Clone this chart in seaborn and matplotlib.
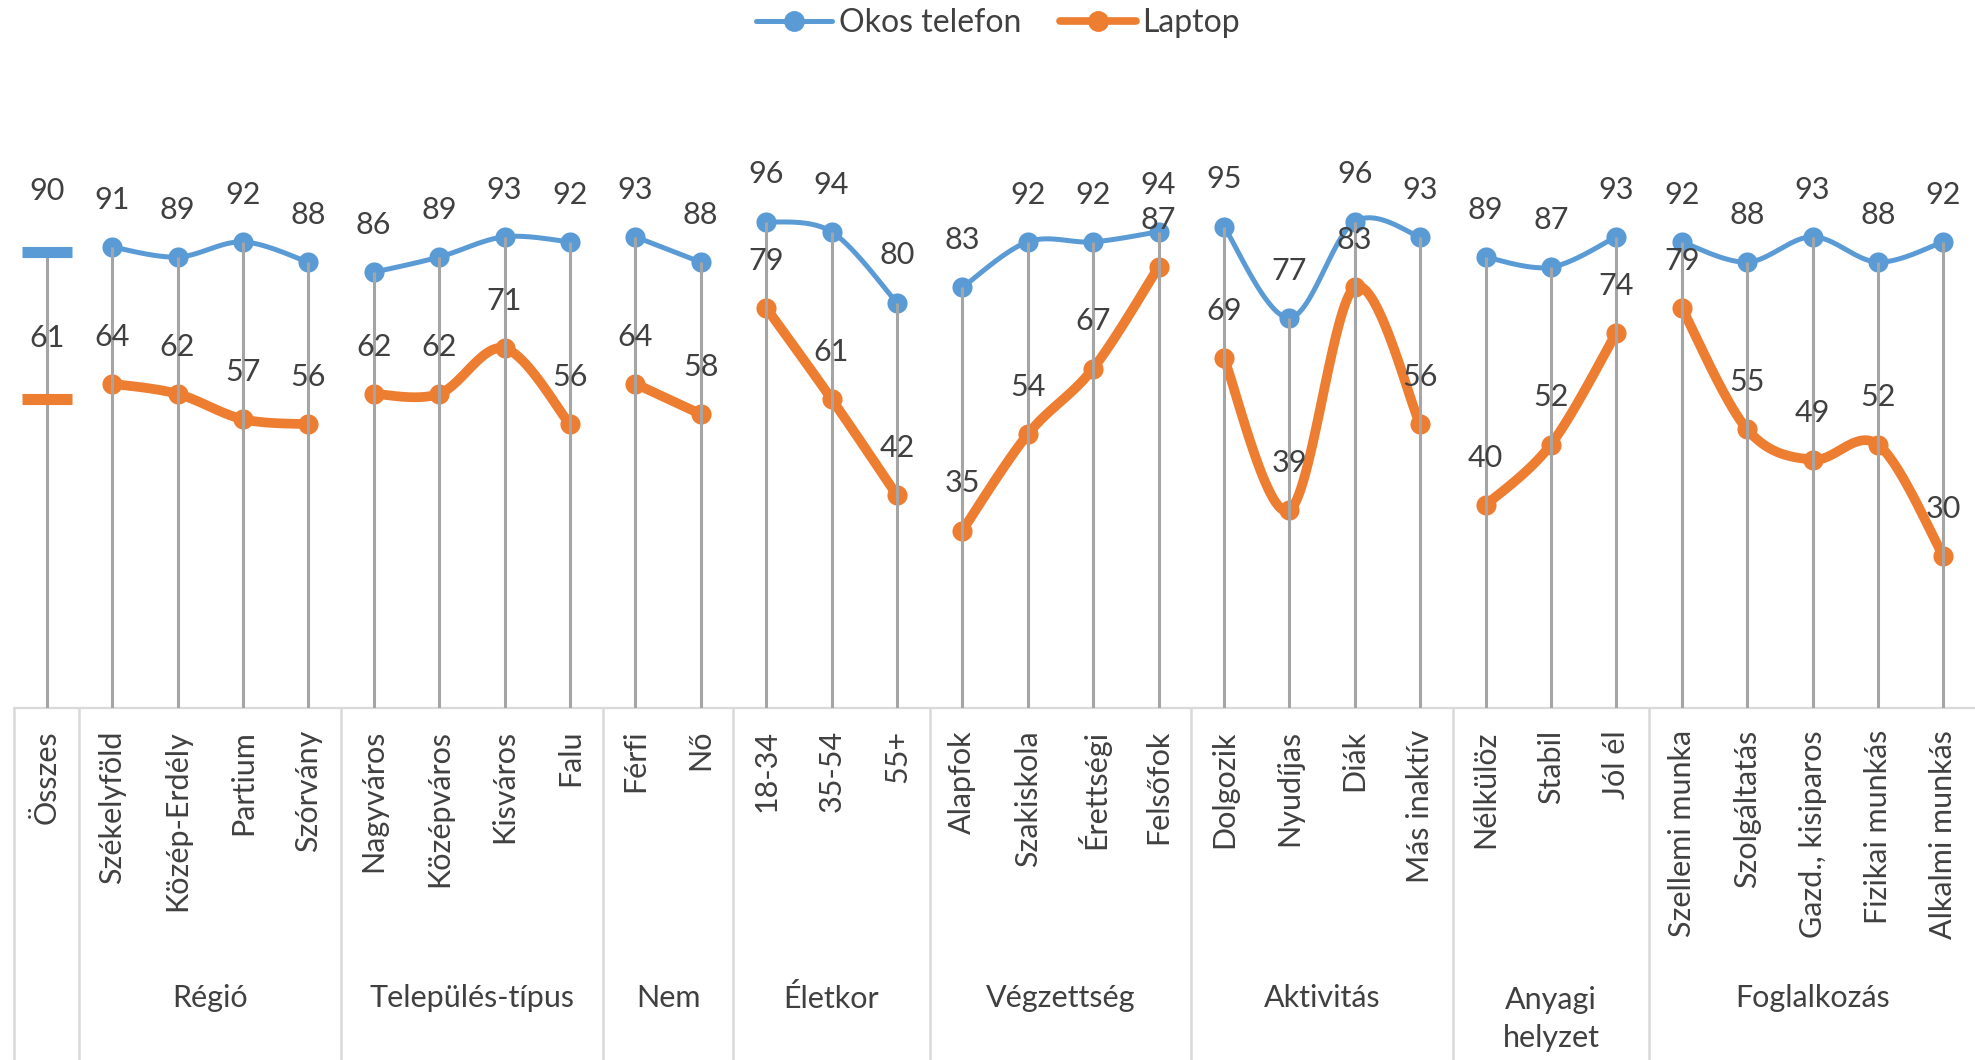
import numpy as np
import pandas as pd
import matplotlib
matplotlib.use("Agg")
import matplotlib.pyplot as plt
import seaborn as sns
from matplotlib.lines import Line2D
from matplotlib.transforms import blended_transform_factory

# ---------------- data ----------------
category_labels = ["Összes",
                   "Székelyföld", "Közép-Erdély", "Partium", "Szórvány",
                   "Nagyváros", "Középváros", "Kisváros", "Falu",
                   "Férfi", "Nő",
                   "18-34", "35-54", "55+",
                   "Alapfok", "Szakiskola", "Érettségi", "Felsőfok",
                   "Dolgozik", "Nyudíjas", "Diák", "Más inaktív",
                   "Nélkülöz", "Stabil", "Jól él",
                   "Szellemi munka", "Szolgáltatás", "Gazd., kisiparos", "Fizikai munkás", "Alkalmi munkás"]
group_labels = ["", "Régió", "Település-típus", "Nem", "Életkor", "Végzettség",
                "Aktivitás", "Anyagi\nhelyzet", "Foglalkozás"]
group_sizes = [1, 4, 4, 2, 3, 4, 4, 3, 5]
okos_telefon = [90,
                91, 89, 92, 88,
                86, 89, 93, 92,
                93, 88,
                96, 94, 80,
                83, 92, 92, 94,
                95, 77, 96, 93,
                89, 87, 93,
                92, 88, 93, 88, 92]
laptop = [61,
          64, 62, 57, 56,
          62, 62, 71, 56,
          64, 58,
          79, 61, 42,
          35, 54, 67, 87,
          69, 39, 83, 56,
          40, 52, 74,
          79, 55, 49, 52, 30]
series_names = ["Okos telefon", "Laptop"]

# ---------------- style ----------------
BLUE = "#5b9bd5"
ORANGE = "#ed7d31"
DROP = "#a5a5a5"
SEP = "#d9d9d9"
TXT = "#404040"

sns.set_style("white")
plt.rcParams["font.family"] = ["Lato", "DejaVu Sans"]
FS = 22

W, H = 1975, 1060
fig = plt.figure(figsize=(W / 100, H / 100), dpi=100)
ax_left, ax_right = 14, 1976
ax_top, ax_bot = 100, 708
ax = fig.add_axes([ax_left / W, 1 - ax_bot / H, (ax_right - ax_left) / W, (ax_bot - ax_top) / H])
ax.set_xlim(-0.5, len(category_labels) - 0.5)
ax.set_ylim(0, 120)
ax.axis("off")


def smooth(xs, ys, n=40):
    P = np.column_stack([xs, ys]).astype(float)
    if len(P) < 2:
        return P
    ext = np.vstack([P[0], P, P[-1]])
    out = []
    t = np.linspace(0, 1, n)[:, None]
    for i in range(len(P) - 1):
        p0, p1, p2, p3 = ext[i], ext[i + 1], ext[i + 2], ext[i + 3]
        c1 = p1 + (p2 - p0) / 6
        c2 = p2 - (p3 - p1) / 6
        seg = (1 - t) ** 3 * p1 + 3 * (1 - t) ** 2 * t * c1 + 3 * (1 - t) * t ** 2 * c2 + t ** 3 * p2
        out.append(seg if i == 0 else seg[1:])
    return np.vstack(out)


x_all = np.arange(len(category_labels))
starts = np.cumsum([0] + group_sizes[:-1])
styles = {"Okos telefon": (okos_telefon, BLUE, 3.6), "Laptop": (laptop, ORANGE, 7.0)}

for name in series_names:
    vals, col, lw = styles[name]
    vals = np.array(vals, dtype=float)
    for s, n in zip(starts, group_sizes):
        xs = x_all[s:s + n]
        ys = vals[s:s + n]
        if n >= 2:
            curve = smooth(xs, ys)
            df = pd.DataFrame({"x": curve[:, 0], "y": curve[:, 1]})
            sns.lineplot(data=df, x="x", y="y", sort=False, estimator=None, color=col,
                         linewidth=lw, ax=ax, zorder=2, legend=False)
            sns.scatterplot(x=xs, y=ys, color=col, s=14.5 ** 2, linewidth=0, ax=ax,
                            zorder=3, legend=False)
        else:
            ax.plot(xs, ys, marker="_", ms=36, mew=8, color=col, linestyle="none", zorder=5)

# drop lines
top = np.maximum(okos_telefon, laptop)
ax.vlines(x_all, 0, top, color=DROP, linewidth=2.2, zorder=4)

# data labels
for name in series_names:
    vals, col, lw = styles[name]
    for i, v in enumerate(vals):
        off = 44 if i == 0 else 34
        ax.annotate(f"{v}", (i, v), xytext=(0, off), textcoords="offset points",
                    ha="center", va="center", fontsize=FS, color=TXT, zorder=6)

# category axis
trans = blended_transform_factory(ax.transData, ax.transAxes)
axh = ax_bot - ax_top
ax.plot([-0.5, len(category_labels) - 0.5], [0, 0], color=SEP, linewidth=1.6,
        clip_on=False, zorder=1)
for i, lab in enumerate(category_labels):
    ax.text(i, -22 / axh, lab, rotation=90, ha="center", va="top", fontsize=FS,
            color=TXT, transform=trans)
bounds = [-0.5] + list(np.cumsum(group_sizes) - 0.5)
for b in bounds[:-1]:
    ax.plot([b, b], [0, -(H - ax_bot + 5) / axh], color=SEP, linewidth=1.8,
            transform=trans, clip_on=False, zorder=1)
for s, n, g in zip(starts, group_sizes, group_labels):
    if not g:
        continue
    cx = s + (n - 1) / 2
    if "\n" in g:
        ax.text(cx, -(1019 - ax_bot) / axh, g, ha="center", va="center", fontsize=FS,
                color=TXT, transform=trans, linespacing=1.4)
    else:
        ax.text(cx, -(998 - ax_bot) / axh, g, ha="center", va="center", fontsize=FS,
                color=TXT, transform=trans)

# legend
handles = [Line2D([0], [0], color=BLUE, lw=3.6, marker="o", ms=14),
           Line2D([0], [0], color=ORANGE, lw=5.5, marker="o", ms=14)]
leg = fig.legend(handles, series_names, loc="center", bbox_to_anchor=(998 / W, 1 - 23 / H),
                 ncol=2, frameon=False, fontsize=23, handlelength=2.4, handletextpad=0.2,
                 columnspacing=1.2)
for t in leg.get_texts():
    t.set_color(TXT)

fig.savefig("out.png", dpi=100)
